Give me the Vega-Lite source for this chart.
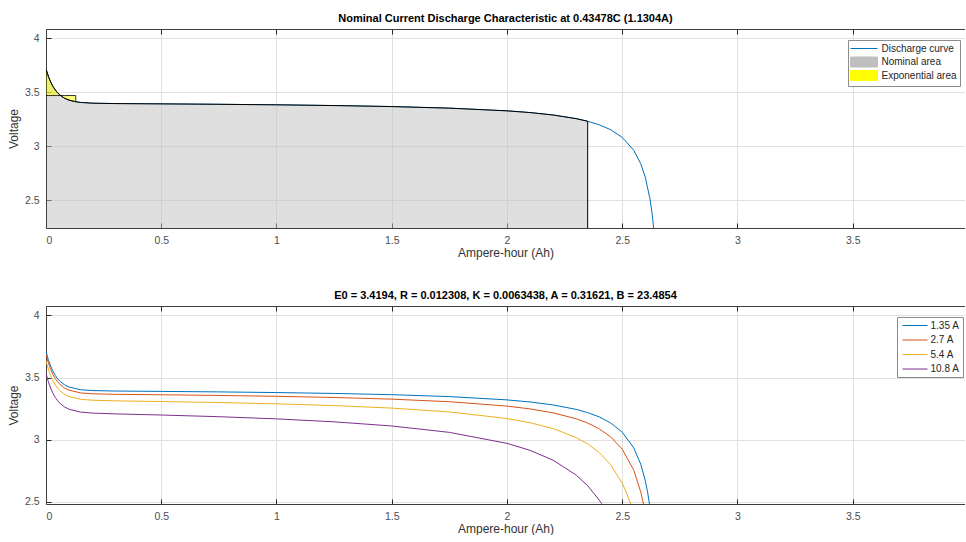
{
  "$schema": "https://vega.github.io/schema/vega-lite/v6.json",
  "background": "white",
  "autosize": {"type": "pad"},
  "padding": {"left": 7, "top": 12, "right": 0, "bottom": 0},
  "bounds": "flush",
  "spacing": 78,
  "datasets": {
    "discharge": [
      {"series": "Discharge curve", "x": 0, "v": 3.7145},
      {"series": "Discharge curve", "x": 0.01, "v": 3.6483},
      {"series": "Discharge curve", "x": 0.02, "v": 3.5959},
      {"series": "Discharge curve", "x": 0.03, "v": 3.5544},
      {"series": "Discharge curve", "x": 0.04, "v": 3.5216},
      {"series": "Discharge curve", "x": 0.05, "v": 3.4956},
      {"series": "Discharge curve", "x": 0.06, "v": 3.4751},
      {"series": "Discharge curve", "x": 0.08, "v": 3.4459},
      {"series": "Discharge curve", "x": 0.1, "v": 3.4276},
      {"series": "Discharge curve", "x": 0.129, "v": 3.4124},
      {"series": "Discharge curve", "x": 0.15, "v": 3.4062},
      {"series": "Discharge curve", "x": 0.2, "v": 3.3993},
      {"series": "Discharge curve", "x": 0.3, "v": 3.3956},
      {"series": "Discharge curve", "x": 0.5, "v": 3.3928},
      {"series": "Discharge curve", "x": 0.75, "v": 3.389},
      {"series": "Discharge curve", "x": 1.0, "v": 3.384},
      {"series": "Discharge curve", "x": 1.25, "v": 3.3773},
      {"series": "Discharge curve", "x": 1.5, "v": 3.3678},
      {"series": "Discharge curve", "x": 1.75, "v": 3.3533},
      {"series": "Discharge curve", "x": 2.0, "v": 3.3282},
      {"series": "Discharge curve", "x": 2.1, "v": 3.3123},
      {"series": "Discharge curve", "x": 2.2, "v": 3.2899},
      {"series": "Discharge curve", "x": 2.3, "v": 3.2561},
      {"series": "Discharge curve", "x": 2.35, "v": 3.2317},
      {"series": "Discharge curve", "x": 2.4, "v": 3.199},
      {"series": "Discharge curve", "x": 2.45, "v": 3.1528},
      {"series": "Discharge curve", "x": 2.5, "v": 3.0826},
      {"series": "Discharge curve", "x": 2.55, "v": 2.9629},
      {"series": "Discharge curve", "x": 2.58, "v": 2.8397},
      {"series": "Discharge curve", "x": 2.6, "v": 2.713},
      {"series": "Discharge curve", "x": 2.62, "v": 2.5159},
      {"series": "Discharge curve", "x": 2.63, "v": 2.3697},
      {"series": "Discharge curve", "x": 2.64, "v": 2.1673}
    ],
    "nominal": [
      {"series": "Nominal area", "x": 0, "v": 3.7145},
      {"series": "Nominal area", "x": 0.01, "v": 3.6483},
      {"series": "Nominal area", "x": 0.02, "v": 3.5959},
      {"series": "Nominal area", "x": 0.03, "v": 3.5544},
      {"series": "Nominal area", "x": 0.04, "v": 3.5216},
      {"series": "Nominal area", "x": 0.05, "v": 3.4956},
      {"series": "Nominal area", "x": 0.06, "v": 3.4751},
      {"series": "Nominal area", "x": 0.08, "v": 3.4459},
      {"series": "Nominal area", "x": 0.1, "v": 3.4276},
      {"series": "Nominal area", "x": 0.129, "v": 3.4124},
      {"series": "Nominal area", "x": 0.15, "v": 3.4062},
      {"series": "Nominal area", "x": 0.2, "v": 3.3993},
      {"series": "Nominal area", "x": 0.3, "v": 3.3956},
      {"series": "Nominal area", "x": 0.5, "v": 3.3928},
      {"series": "Nominal area", "x": 0.75, "v": 3.389},
      {"series": "Nominal area", "x": 1.0, "v": 3.384},
      {"series": "Nominal area", "x": 1.25, "v": 3.3773},
      {"series": "Nominal area", "x": 1.5, "v": 3.3678},
      {"series": "Nominal area", "x": 1.75, "v": 3.3533},
      {"series": "Nominal area", "x": 2.0, "v": 3.3282},
      {"series": "Nominal area", "x": 2.1, "v": 3.3123},
      {"series": "Nominal area", "x": 2.2, "v": 3.2899},
      {"series": "Nominal area", "x": 2.3, "v": 3.2561},
      {"series": "Nominal area", "x": 2.35, "v": 3.2317}
    ],
    "exponential": [
      {"series": "Exponential area", "x": 0, "v": 3.7145},
      {"series": "Exponential area", "x": 0.01, "v": 3.6483},
      {"series": "Exponential area", "x": 0.02, "v": 3.5959},
      {"series": "Exponential area", "x": 0.03, "v": 3.5544},
      {"series": "Exponential area", "x": 0.04, "v": 3.5216},
      {"series": "Exponential area", "x": 0.05, "v": 3.4956},
      {"series": "Exponential area", "x": 0.06, "v": 3.4751},
      {"series": "Exponential area", "x": 0.08, "v": 3.4459},
      {"series": "Exponential area", "x": 0.1, "v": 3.4276},
      {"series": "Exponential area", "x": 0.129, "v": 3.4124}
    ],
    "currents": [
      {"current": "1.35 A", "x": 0, "v": 3.7104},
      {"current": "1.35 A", "x": 0.01, "v": 3.6442},
      {"current": "1.35 A", "x": 0.02, "v": 3.5917},
      {"current": "1.35 A", "x": 0.03, "v": 3.5502},
      {"current": "1.35 A", "x": 0.04, "v": 3.5174},
      {"current": "1.35 A", "x": 0.05, "v": 3.4915},
      {"current": "1.35 A", "x": 0.06, "v": 3.4709},
      {"current": "1.35 A", "x": 0.08, "v": 3.4417},
      {"current": "1.35 A", "x": 0.1, "v": 3.4234},
      {"current": "1.35 A", "x": 0.15, "v": 3.402},
      {"current": "1.35 A", "x": 0.2, "v": 3.395},
      {"current": "1.35 A", "x": 0.3, "v": 3.3913},
      {"current": "1.35 A", "x": 0.5, "v": 3.3884},
      {"current": "1.35 A", "x": 0.75, "v": 3.3843},
      {"current": "1.35 A", "x": 1.0, "v": 3.3791},
      {"current": "1.35 A", "x": 1.25, "v": 3.372},
      {"current": "1.35 A", "x": 1.5, "v": 3.362},
      {"current": "1.35 A", "x": 1.75, "v": 3.3466},
      {"current": "1.35 A", "x": 2.0, "v": 3.3201},
      {"current": "1.35 A", "x": 2.1, "v": 3.3033},
      {"current": "1.35 A", "x": 2.2, "v": 3.2796},
      {"current": "1.35 A", "x": 2.3, "v": 3.2438},
      {"current": "1.35 A", "x": 2.35, "v": 3.218},
      {"current": "1.35 A", "x": 2.4, "v": 3.1835},
      {"current": "1.35 A", "x": 2.45, "v": 3.1346},
      {"current": "1.35 A", "x": 2.5, "v": 3.0603},
      {"current": "1.35 A", "x": 2.55, "v": 2.9337},
      {"current": "1.35 A", "x": 2.58, "v": 2.8035},
      {"current": "1.35 A", "x": 2.6, "v": 2.6696},
      {"current": "1.35 A", "x": 2.61, "v": 2.5781},
      {"current": "1.35 A", "x": 2.62, "v": 2.4611},
      {"current": "2.7 A", "x": 0, "v": 3.6853},
      {"current": "2.7 A", "x": 0.01, "v": 3.6189},
      {"current": "2.7 A", "x": 0.02, "v": 3.5665},
      {"current": "2.7 A", "x": 0.03, "v": 3.525},
      {"current": "2.7 A", "x": 0.04, "v": 3.4921},
      {"current": "2.7 A", "x": 0.05, "v": 3.4661},
      {"current": "2.7 A", "x": 0.06, "v": 3.4455},
      {"current": "2.7 A", "x": 0.08, "v": 3.4163},
      {"current": "2.7 A", "x": 0.1, "v": 3.3979},
      {"current": "2.7 A", "x": 0.15, "v": 3.3764},
      {"current": "2.7 A", "x": 0.2, "v": 3.3692},
      {"current": "2.7 A", "x": 0.3, "v": 3.365},
      {"current": "2.7 A", "x": 0.5, "v": 3.3612},
      {"current": "2.7 A", "x": 0.75, "v": 3.3558},
      {"current": "2.7 A", "x": 1.0, "v": 3.3488},
      {"current": "2.7 A", "x": 1.25, "v": 3.3394},
      {"current": "2.7 A", "x": 1.5, "v": 3.326},
      {"current": "2.7 A", "x": 1.75, "v": 3.3055},
      {"current": "2.7 A", "x": 2.0, "v": 3.2702},
      {"current": "2.7 A", "x": 2.1, "v": 3.2477},
      {"current": "2.7 A", "x": 2.2, "v": 3.2161},
      {"current": "2.7 A", "x": 2.3, "v": 3.1684},
      {"current": "2.7 A", "x": 2.35, "v": 3.134},
      {"current": "2.7 A", "x": 2.4, "v": 3.0879},
      {"current": "2.7 A", "x": 2.45, "v": 3.0227},
      {"current": "2.7 A", "x": 2.5, "v": 2.9237},
      {"current": "2.7 A", "x": 2.55, "v": 2.7548},
      {"current": "2.7 A", "x": 2.58, "v": 2.5811},
      {"current": "2.7 A", "x": 2.59, "v": 2.5005},
      {"current": "2.7 A", "x": 2.6, "v": 2.4024},
      {"current": "5.4 A", "x": 0, "v": 3.6349},
      {"current": "5.4 A", "x": 0.01, "v": 3.5685},
      {"current": "5.4 A", "x": 0.02, "v": 3.516},
      {"current": "5.4 A", "x": 0.03, "v": 3.4744},
      {"current": "5.4 A", "x": 0.04, "v": 3.4415},
      {"current": "5.4 A", "x": 0.05, "v": 3.4154},
      {"current": "5.4 A", "x": 0.06, "v": 3.3948},
      {"current": "5.4 A", "x": 0.08, "v": 3.3654},
      {"current": "5.4 A", "x": 0.1, "v": 3.3469},
      {"current": "5.4 A", "x": 0.15, "v": 3.325},
      {"current": "5.4 A", "x": 0.2, "v": 3.3175},
      {"current": "5.4 A", "x": 0.3, "v": 3.3125},
      {"current": "5.4 A", "x": 0.5, "v": 3.307},
      {"current": "5.4 A", "x": 0.75, "v": 3.2989},
      {"current": "5.4 A", "x": 1.0, "v": 3.2884},
      {"current": "5.4 A", "x": 1.25, "v": 3.2742},
      {"current": "5.4 A", "x": 1.5, "v": 3.2541},
      {"current": "5.4 A", "x": 1.75, "v": 3.2233},
      {"current": "5.4 A", "x": 2.0, "v": 3.1703},
      {"current": "5.4 A", "x": 2.1, "v": 3.1366},
      {"current": "5.4 A", "x": 2.2, "v": 3.0891},
      {"current": "5.4 A", "x": 2.3, "v": 3.0175},
      {"current": "5.4 A", "x": 2.35, "v": 2.966},
      {"current": "5.4 A", "x": 2.4, "v": 2.8968},
      {"current": "5.4 A", "x": 2.45, "v": 2.799},
      {"current": "5.4 A", "x": 2.5, "v": 2.6503},
      {"current": "5.4 A", "x": 2.52, "v": 2.5666},
      {"current": "5.4 A", "x": 2.53, "v": 2.517},
      {"current": "5.4 A", "x": 2.54, "v": 2.4608},
      {"current": "10.8 A", "x": 0, "v": 3.5342},
      {"current": "10.8 A", "x": 0.01, "v": 3.4677},
      {"current": "10.8 A", "x": 0.02, "v": 3.415},
      {"current": "10.8 A", "x": 0.03, "v": 3.3733},
      {"current": "10.8 A", "x": 0.04, "v": 3.3403},
      {"current": "10.8 A", "x": 0.05, "v": 3.3141},
      {"current": "10.8 A", "x": 0.06, "v": 3.2933},
      {"current": "10.8 A", "x": 0.08, "v": 3.2637},
      {"current": "10.8 A", "x": 0.1, "v": 3.2449},
      {"current": "10.8 A", "x": 0.15, "v": 3.2222},
      {"current": "10.8 A", "x": 0.2, "v": 3.214},
      {"current": "10.8 A", "x": 0.3, "v": 3.2075},
      {"current": "10.8 A", "x": 0.5, "v": 3.1984},
      {"current": "10.8 A", "x": 0.75, "v": 3.1849},
      {"current": "10.8 A", "x": 1.0, "v": 3.1674},
      {"current": "10.8 A", "x": 1.25, "v": 3.1438},
      {"current": "10.8 A", "x": 1.5, "v": 3.1103},
      {"current": "10.8 A", "x": 1.75, "v": 3.059},
      {"current": "10.8 A", "x": 2.0, "v": 2.9706},
      {"current": "10.8 A", "x": 2.1, "v": 2.9143},
      {"current": "10.8 A", "x": 2.2, "v": 2.8352},
      {"current": "10.8 A", "x": 2.3, "v": 2.7158},
      {"current": "10.8 A", "x": 2.35, "v": 2.6298},
      {"current": "10.8 A", "x": 2.4, "v": 2.5145},
      {"current": "10.8 A", "x": 2.41, "v": 2.4865},
      {"current": "10.8 A", "x": 2.42, "v": 2.4565}
    ]
  },
  "vconcat": [
    {
      "width": 919,
      "height": 199,
      "title": {"text": "Nominal Current Discharge Characteristic at 0.43478C (1.1304A)"},
      "layer": [
        {
          "data": {"name": "discharge"},
          "mark": {"type": "line", "clip": true, "strokeWidth": 1},
          "encoding": {
            "x": {"field": "x", "type": "quantitative", "scale": {"domain": [0, 3.987], "nice": false},
                  "axis": {"title": "Ampere-hour (Ah)", "values": [0, 0.5, 1, 1.5, 2, 2.5, 3, 3.5], "format": "~g"}},
            "y": {"field": "v", "type": "quantitative", "scale": {"domain": [2.2435, 4.0861], "nice": false, "zero": false},
                  "axis": {"title": "Voltage", "values": [2.5, 3, 3.5, 4], "format": "~g"}},
            "color": {"field": "series", "type": "nominal",
              "scale": {"domain": ["Discharge curve", "Nominal area", "Exponential area"], "range": ["#0072bd", "#bfbfbf", "#ffff00"]},
              "legend": {
                "title": null, "orient": "none", "legendX": 802, "legendY": 11,
                "symbolType": "M-2.7,-1H2.7V1H-2.7Z", "symbolSize": 100, "symbolOffset": 7.5, "labelOffset": 12,
                "rowPadding": -1.5, "symbolStrokeColor": "#333333", "symbolStrokeWidth": 1,
                "encode": {"symbols": {
                  "enter": {
                    "stroke": {"signal": "datum.value === 'Discharge curve' ? '#0072bd' : '#333333'"},
                    "strokeWidth": {"value": 1}
                  },
                  "update": {
                  "shape": {"signal": "datum.value === 'Discharge curve' ? 'M-2.7,-1M-2.7,1M-2.7,0H2.7' : 'M-2.7,-1H2.7V1H-2.7Z'"},
                  "fill": {"signal": "datum.value === 'Nominal area' ? '#bfbfbf' : (datum.value === 'Exponential area' ? '#ffff00' : 'transparent')"},
                  "stroke": {"signal": "datum.value === 'Discharge curve' ? '#0072bd' : '#333333'"},
                  "strokeWidth": {"value": 1},
                  "strokeOpacity": {"value": 1},
                  "opacity": {"value": 1},
                  "fillOpacity": {"value": 1}
                }}}
              }}
          }
        },
        {
          "data": {"name": "nominal"},
          "mark": {"type": "area", "clip": true, "stroke": "#000000", "strokeWidth": 1, "fillOpacity": 0.5},
          "encoding": {
            "x": {"field": "x", "type": "quantitative",
                  "axis": {"orient": "top", "labels": false, "title": null, "grid": false, "values": [0, 0.5, 1, 1.5, 2, 2.5, 3, 3.5]}},
            "y": {"field": "v", "type": "quantitative"},
            "y2": {"datum": 2},
            "color": {"field": "series", "type": "nominal"}
          }
        },
        {
          "data": {"name": "exponential"},
          "mark": {"type": "area", "clip": true, "stroke": "#000000", "strokeWidth": 0.8, "fillOpacity": 0.5},
          "encoding": {
            "x": {"field": "x", "type": "quantitative", "axis": null},
            "y": {"field": "v", "type": "quantitative"},
            "y2": {"datum": 3.47},
            "color": {"field": "series", "type": "nominal"}
          }
        }
      ],
      "resolve": {"axis": {"x": "independent"}}
    },
    {
      "width": 919,
      "height": 198,
      "title": {"text": "E0 = 3.4194, R = 0.012308, K = 0.0063438, A = 0.31621, B = 23.4854"},
      "data": {"name": "currents"},
      "layer": [
        {
          "mark": {"type": "line", "clip": true, "strokeWidth": 1},
          "encoding": {
            "x": {"field": "x", "type": "quantitative", "scale": {"domain": [0, 3.987], "nice": false},
                  "axis": {"title": "Ampere-hour (Ah)", "values": [0, 0.5, 1, 1.5, 2, 2.5, 3, 3.5], "format": "~g"}},
            "y": {"field": "v", "type": "quantitative", "scale": {"domain": [2.483, 4.075], "nice": false, "zero": false},
                  "axis": {"title": "Voltage", "values": [2.5, 3, 3.5, 4], "format": "~g"}},
            "color": {"field": "current", "type": "nominal",
              "scale": {"domain": ["1.35 A", "2.7 A", "5.4 A", "10.8 A"], "range": ["#0072bd", "#d95319", "#edb120", "#7e2f8e"]},
              "legend": {
                "title": null, "orient": "none", "legendX": 851, "legendY": 11,
                "symbolType": "M-2.5,0H2.5", "symbolSize": 100, "symbolOffset": 9.5, "labelOffset": 10,
                "symbolStrokeWidth": 1, "rowPadding": 3.5
              }}
          }
        },
        {
          "mark": {"type": "point", "clip": true, "opacity": 0},
          "encoding": {
            "x": {"field": "x", "type": "quantitative",
                  "axis": {"orient": "top", "labels": false, "title": null, "grid": false, "values": [0, 0.5, 1, 1.5, 2, 2.5, 3, 3.5]}},
            "y": {"field": "v", "type": "quantitative"}
          }
        }
      ],
      "resolve": {"axis": {"x": "independent"}}
    }
  ],
  "resolve": {"scale": {"x": "independent", "y": "independent", "color": "independent"}, "legend": {"color": "independent"}},
  "config": {
    "font": "Liberation Sans",
    "view": {"stroke": null},
    "axis": {
      "labelFont": "Liberation Sans", "labelFontSize": 10.5, "labelColor": "#4d4d4d",
      "titleFont": "Liberation Sans", "titleFontSize": 12, "titleFontWeight": "normal", "titleColor": "#333333",
      "gridColor": "#e0e0e0", "gridWidth": 1, "tickColor": "#262626", "tickSize": -5,
      "domain": true, "domainColor": "#404040", "domainWidth": 1, "labelPadding": 12, "titlePadding": 2
    },
    "axisY": {"labelPadding": 12, "titlePadding": 4},
    "title": {"font": "Liberation Sans", "fontSize": 11, "fontWeight": "bold", "color": "#000000", "offset": 5},
    "legend": {
      "fillColor": "#ffffff", "strokeColor": "#8c8c8c", "padding": 3, "cornerRadius": 0,
      "labelFont": "Liberation Sans", "labelFontSize": 10, "labelColor": "#262626"
    }
  }
}
